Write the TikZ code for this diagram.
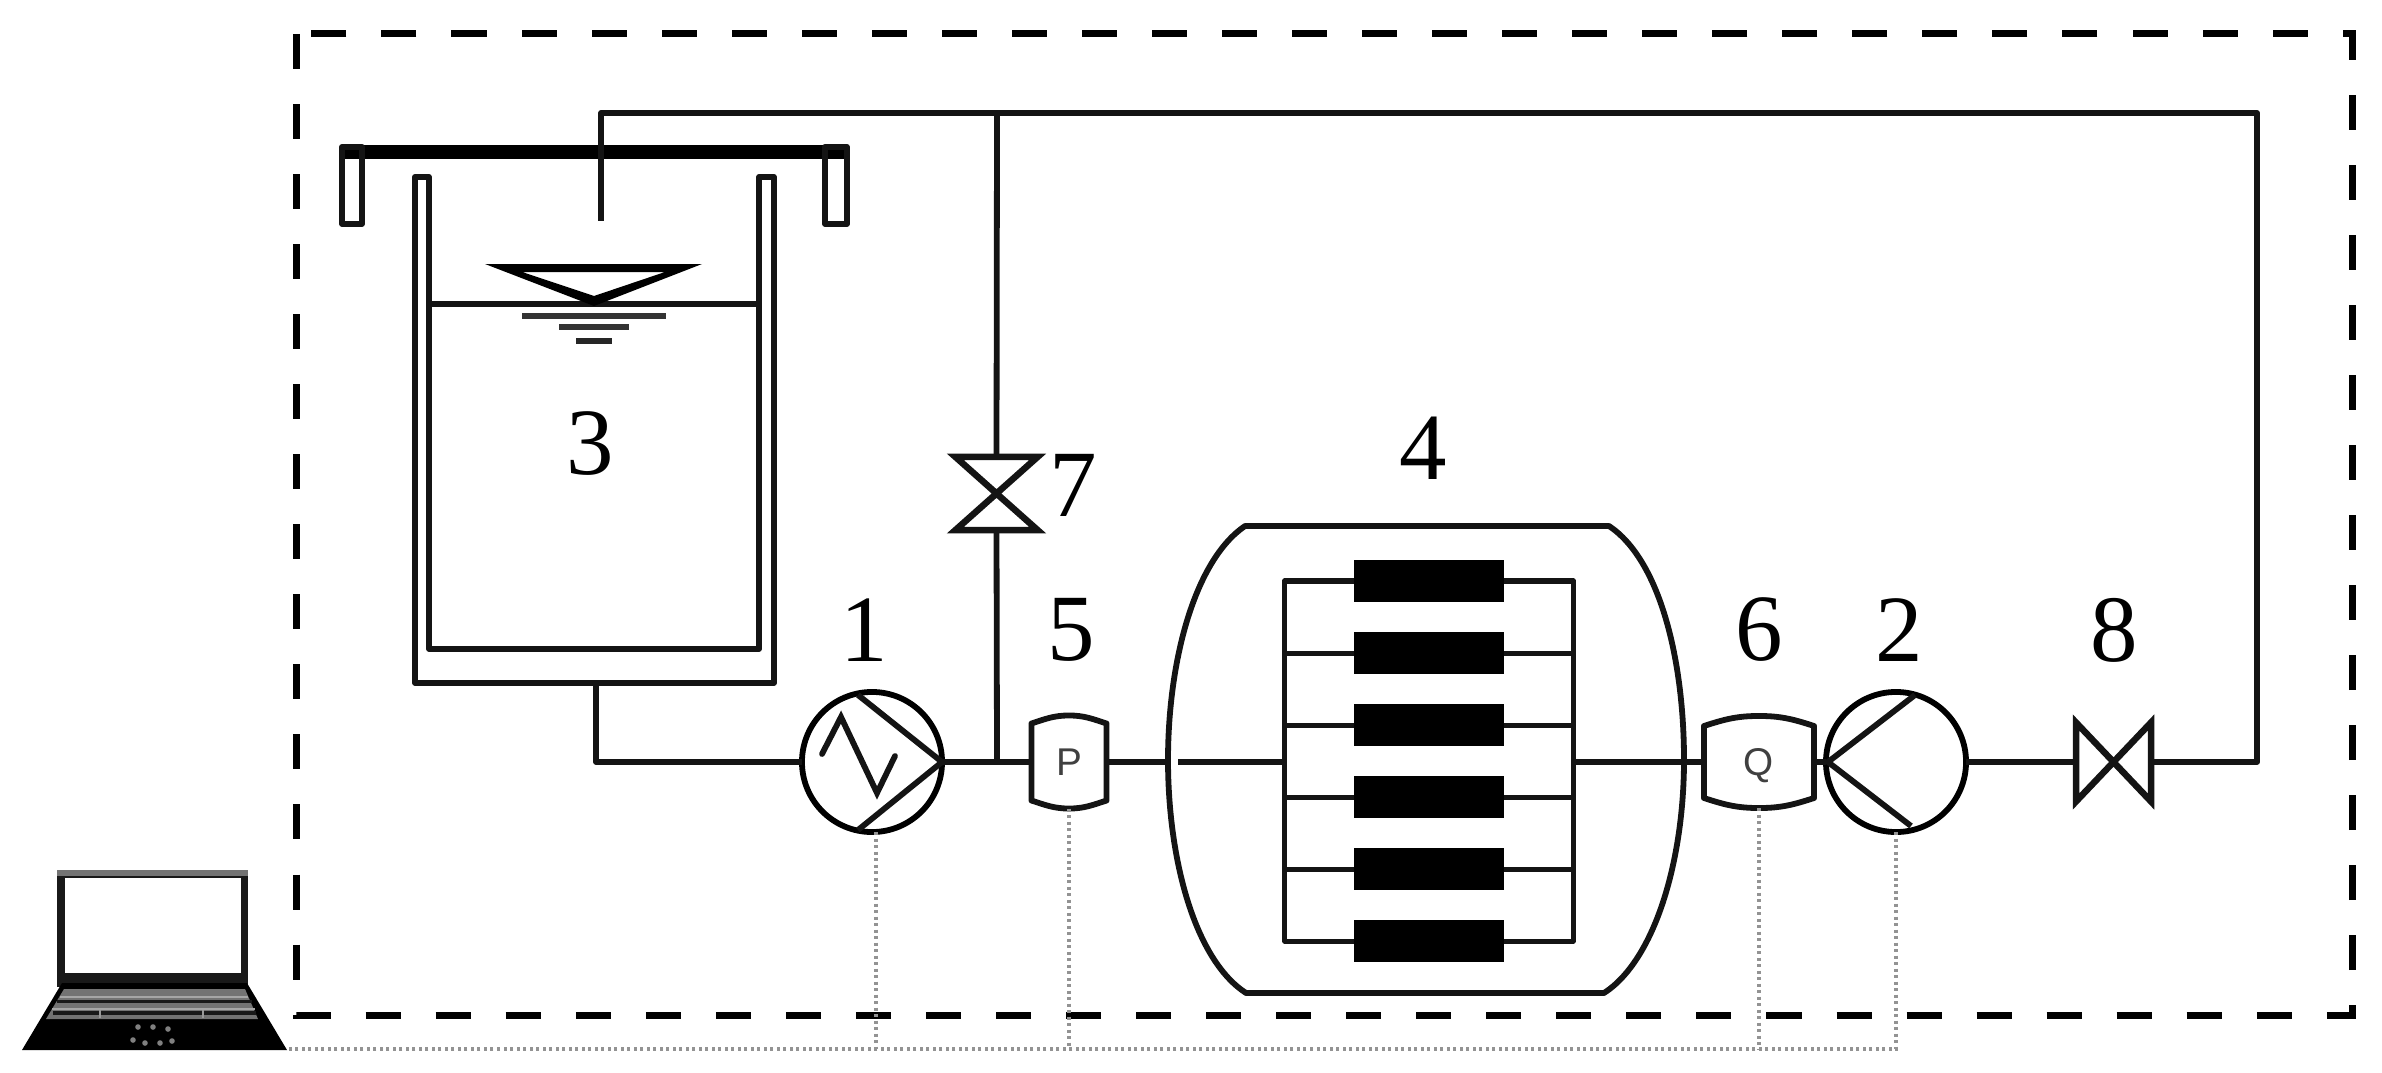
\documentclass[tikz,border=0pt]{standalone}
\usepackage{fontspec}
\setmainfont{Liberation Serif}
\setsansfont{Liberation Sans}
\usetikzlibrary{calc}
\tikzset{
  x=0.01cm,y=-0.01cm,
  pipe/.style={line width=0.058cm,line join=round,black!92},
  thin pipe/.style={line width=0.05cm,line join=round,black!92},
  sig/.style={line width=0.035cm,gray!85,dash pattern=on 0.03cm off 0.035cm},
  bound/.style={line width=0.07cm,dash pattern=on 0.35cm off 0.35cm},
  num/.style={font=\fontsize{27}{30}\selectfont,inner sep=0pt},
  holder/.style={inner sep=0pt,outer sep=0pt},
  sens/.style={holder,font=\sffamily\fontsize{11}{12}\selectfont,text=black!75},
  cell/.style={holder,fill=black,minimum width=1.5cm,minimum height=0.42cm},
  pumpc/.style={circle,draw,line width=0.058cm,inner sep=0pt,outer sep=0pt,minimum size=1.4cm}
}
\newcommand{\sensorshape}[2]{%
  \draw[pipe,fill=white] ([yshift=-#2 cm]#1.north west) to[out=18,in=180] (#1.north) to[out=0,in=162] ([yshift=-#2 cm]#1.north east)
    -- ([yshift=#2 cm]#1.south east) to[out=198,in=0] (#1.south) to[out=180,in=-18] ([yshift=#2 cm]#1.south west) -- cycle;}
\begin{document}
\begin{tikzpicture}
\useasboundingbox (0,0) rectangle (2382,1073);
% control boundary
\draw[bound] (296,34) rectangle (2352,1015);

% named positions
\node[pumpc] (p1) at (872,762) {};
\node[pumpc] (p2) at (1896,762) {};
\node[sens,minimum width=0.75cm,minimum height=0.93cm] (P) at (1069,762) {};
\node[sens,minimum width=1.1cm,minimum height=0.92cm] (Q) at (1759,762) {};
\node[holder,minimum width=0.75cm,minimum height=0.79cm] (v8) at (2113.5,762) {};
\node[holder,minimum width=0.82cm,minimum height=0.73cm] (v7) at (996.5,493.5) {};
\node[holder,minimum width=2.88cm,minimum height=3.6cm] (man) at (1429,761) {};
\coordinate (tankout) at (596,683);
\coordinate (lid) at (601,221);
\coordinate (corner) at (2257,113);
\coordinate (top) at (997,113);
\coordinate (junc) at (997,762);
\coordinate (modl) at (1168,762);
\coordinate (modli) at (1178,762);
\coordinate (lap) at (287,1049);

% tank
\draw[pipe] (415,177) -- (429,177) -- (429,649) -- (759,649) -- (759,177) -- (774,177) -- (774,683) -- (415,683) -- cycle;
\draw[pipe] (429,304) -- (759,304);
% lid
\fill[black] (340,145) rectangle (849,159);
\draw[pipe] (342,147) rectangle (362,224);
\draw[pipe] (825,147) rectangle (847,224);
% level mark
\fill[black,even odd rule] (485,264) -- (702,264) -- (594,306) -- cycle (522,272) -- (665,272) -- (594,296) -- cycle;
\draw[line width=0.06cm,black!80] (522,316) -- (666,316);
\draw[line width=0.06cm,black!80] (559,327) -- (629,327);
\draw[line width=0.06cm,black!85] (576,341) -- (612,341);

% membrane module
\draw[pipe] (1245,526) -- (1609,526) .. controls (1660,560) and (1684,660) .. (1684,760)
  .. controls (1684,860) and (1655,960) .. (1604,993) -- (1246,993)
  .. controls (1195,960) and (1168,860) .. (1168,760) .. controls (1168,660) and (1195,560) .. (1245,526) -- cycle;
\draw[thin pipe] (man.north west) rectangle (man.south east);
\foreach \i/\yy in {1/581,2/653,3/725,4/797,5/869,6/941}{
  \draw[thin pipe] (1285,\yy) -- (1573,\yy);
  \node[cell] (c\i) at (1429,\yy) {};
}

% pipes
\draw[pipe] (lid) |- (corner) |- (v8.east);
\draw[pipe] (top) -- (v7.north);
\draw[pipe] (v7.south) -- (junc);
\draw[pipe] (tankout) |- (p1.west);
\draw[pipe] (p1.east) -- (P.west);
\draw[pipe] (P.east) -- (modl);
\draw[pipe] (modli) -- (man.west |- modli);
\draw[pipe] (man.east |- modli) -- (Q.west);
\draw[pipe] (Q.east) -- (p2.west);
\draw[pipe] (p2.east) -- (v8.west);

% pump internals
\draw[pipe,line join=miter] (858,695) -- (942,762) -- (858,830);
\draw[pipe,line join=miter,line cap=round] (822,754) -- (841,717) -- (877,793) -- (895,756);
\draw[pipe,line join=miter] (1915,695) -- (1828,762) -- (1911,826);

% sensors
\sensorshape{P}{0.08}
\node[sens] (Ptext) at (P.center) {P};
\sensorshape{Q}{0.10}
\node[sens] (Qtext) at ([yshift=-0.04cm]Q.center) {Q};

% valves
\draw[pipe,line width=0.065cm,line join=miter,fill=white] (v8.north west) -- (v8.south west) -- (v8.north east) -- (v8.south east) -- cycle;
\draw[pipe,line width=0.065cm,line join=miter,fill=white] (v7.north west) -- (v7.north east) -- (v7.south west) -- (v7.south east) -- cycle;

% signal lines
\draw[sig] (p2.south) |- (lap);
\draw[sig] ([xshift=0.04cm]p1.south) -- ([xshift=0.04cm]p1.south |- lap);
\draw[sig] (P.south) -- (P.south |- lap);
\draw[sig] (Q.south) -- (Q.south |- lap);

% labels
\node[num] (n3) at (590,444) {3};
\node[num] (n4) at (1423,448) {4};
\node[num] (n1) at (864,630) {1};
\node[num] (n5) at (1071,630) {5};
\node[num] (n6) at (1759,630) {6};
\node[num] (n2) at (1899,630) {2};
\node[num] (n8) at (2114,630) {8};
\node[num] (n7) at (1073,485) {7};

% laptop
\fill[black!90] (57,870) rectangle (248,987);
\fill[black!55] (57,870) rectangle (248,876);
\fill[white] (65,878) rectangle (241,973);
\fill[black] (62,983) -- (247,983) -- (287,1050) -- (22,1050) -- cycle;
\fill[black!55] (64,989) -- (245,989) -- (258,1019) -- (46,1019) -- cycle;
\draw[line width=0.03cm,black!90] (57,1001) -- (252,1001);
\draw[line width=0.04cm,black!90] (53,1013) -- (256,1013);
\draw[line width=0.012cm,black!35] (60,997) -- (248,997);
\draw[line width=0.012cm,black!35] (52,1009) -- (255,1009);
\draw[line width=0.02cm,black!40] (100,1010) -- (100,1018) (203,1010) -- (203,1018);
\foreach \a/\b in {138/1027,153/1027,168/1029,133/1040,145/1043,160/1043,172/1041}
  \fill[black!50] (\a,\b) circle (0.028cm);
\end{tikzpicture}
\end{document}
